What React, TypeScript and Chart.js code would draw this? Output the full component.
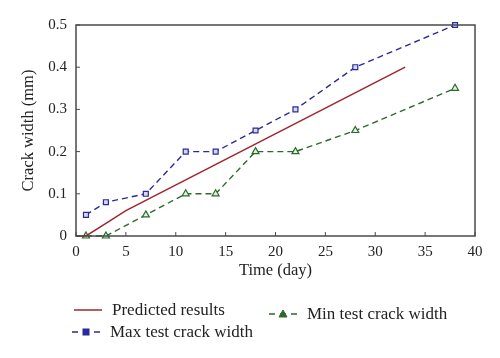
import React, { useEffect, useRef } from "react";
import { Chart, registerables } from "chart.js";

Chart.register(...registerables);

const predDays = [0, 1, 3, 5, 33];
const predWidth = [0, 0, 0.03, 0.06, 0.4];
const maxDays = [1, 3, 7, 11, 14, 18, 22, 28, 38];
const maxWidth = [0.05, 0.08, 0.1, 0.2, 0.2, 0.25, 0.3, 0.4, 0.5];
const minDays = [1, 3, 7, 11, 14, 18, 22, 28, 38];
const minWidth = [0, 0, 0.05, 0.1, 0.1, 0.2, 0.2, 0.25, 0.35];

const xTitle = "Time (day)";
const yTitle = "Crack width (mm)";
const seriesNames = ["Predicted results", "Max test crack width", "Min test crack width"];

const RED = "#a0262e";
const BLUE = "#2a2a9a";
const GREEN = "#2c6a2c";
const AXIS = "#4a4a4a";
const FONT = "'Liberation Serif', 'Times New Roman', serif";

const toPts = (xs: number[], ys: number[]) => xs.map((x, i) => ({ x, y: ys[i] }));

const boxPlugin = {
  id: "boxTicks",
  afterDraw(chart: any) {
    const { ctx, chartArea } = chart;
    const { left, right, top, bottom } = chartArea;
    ctx.save();
    ctx.strokeStyle = AXIS;
    ctx.lineWidth = 1.5;
    ctx.strokeRect(left, top, right - left, bottom - top);
    ctx.lineWidth = 1;
    const xs = chart.scales.x;
    xs.ticks.forEach((t: any) => {
      const px = xs.getPixelForValue(t.value);
      ctx.beginPath();
      ctx.moveTo(px, bottom);
      ctx.lineTo(px, bottom - 4);
      ctx.stroke();
    });
    const ys = chart.scales.y;
    ys.ticks.forEach((t: any) => {
      const py = ys.getPixelForValue(t.value);
      ctx.beginPath();
      ctx.moveTo(left, py);
      ctx.lineTo(left + 4, py);
      ctx.stroke();
    });
    ctx.restore();
  },
};

function Sample({ color, dash, marker }: { color: string; dash: boolean; marker?: "rect" | "tri" }) {
  return (
    <svg width={28} height={10} style={{ display: "block" }}>
      <line
        x1={0}
        y1={5}
        x2={28}
        y2={5}
        stroke={color}
        strokeWidth={1.5}
        strokeDasharray={dash ? "6 5" : undefined}
      />
      {marker === "rect" && <rect x={11} y={2} width={6} height={6} fill={color} stroke={color} />}
      {marker === "tri" && <polygon points="14,1 18,8 10,8" fill={color} stroke={color} />}
    </svg>
  );
}

export default function App() {
  const ref = useRef<HTMLCanvasElement | null>(null);

  useEffect(() => {
    if (!ref.current) return;
    const chart = new Chart(ref.current, {
      type: "line",
      data: {
        datasets: [
          {
            label: seriesNames[0],
            data: toPts(predDays, predWidth),
            borderColor: RED,
            borderWidth: 1.5,
            pointRadius: 0,
            clip: false as any,
          },
          {
            label: seriesNames[1],
            data: toPts(maxDays, maxWidth),
            borderColor: BLUE,
            borderWidth: 1.4,
            borderDash: [6, 4],
            pointStyle: "rect",
            pointRadius: 3.5,
            pointBorderWidth: 1.2,
            pointBorderColor: BLUE,
            pointBackgroundColor: "#d8d8ee",
            clip: false as any,
          },
          {
            label: seriesNames[2],
            data: toPts(minDays, minWidth),
            borderColor: GREEN,
            borderWidth: 1.4,
            borderDash: [6, 4],
            pointStyle: "triangle",
            pointRadius: 4,
            pointBorderWidth: 1.2,
            pointBorderColor: GREEN,
            pointBackgroundColor: "#e4f0e4",
            clip: false as any,
          },
        ],
      },
      options: {
        responsive: false,
        animation: false,
        layout: { padding: { top: 25, right: 25, left: 0, bottom: 77 } },
        plugins: { legend: { display: false }, tooltip: { enabled: false } },
        scales: {
          x: {
            type: "linear",
            min: 0,
            max: 40,
            grid: { display: false, drawTicks: false },
            border: { display: false },
            ticks: { stepSize: 5, color: "#222", padding: 7, font: { family: FONT, size: 15 } },
            title: {
              display: true,
              text: xTitle,
              color: "#222",
              padding: { top: 0, bottom: 0 },
              font: { family: FONT, size: 16.5 },
            },
            afterFit: (s: any) => {
              s.height = 45;
            },
          },
          y: {
            type: "linear",
            min: 0,
            max: 0.5,
            grid: { display: false, drawTicks: false },
            border: { display: false },
            ticks: { stepSize: 0.1, color: "#222", padding: 9, font: { family: FONT, size: 15 } },
            title: {
              display: true,
              text: yTitle,
              color: "#222",
              padding: { top: 19, bottom: 0 },
              font: { family: FONT, size: 16.5 },
            },
            afterFit: (s: any) => {
              s.width = 76;
            },
          },
        },
      },
      plugins: [boxPlugin],
    });
    return () => chart.destroy();
  }, []);

  const textStyle: React.CSSProperties = {
    position: "absolute",
    fontFamily: FONT,
    fontSize: 17,
    color: "#222",
    lineHeight: "18px",
    whiteSpace: "nowrap",
    display: "flex",
    alignItems: "center",
  };

  return (
    <div style={{ position: "fixed", left: 0, top: 0, width: 500, height: 358, background: "#fff" }}>
      <canvas ref={ref} width={500} height={358} style={{ display: "block", width: 500, height: 358 }} />
      <div style={{ ...textStyle, left: 74, top: 301 }}>
        <Sample color={RED} dash={false} />
        <span style={{ marginLeft: 10 }}>{seriesNames[0]}</span>
      </div>
      <div style={{ ...textStyle, left: 72, top: 323 }}>
        <Sample color={BLUE} dash={true} marker="rect" />
        <span style={{ marginLeft: 10 }}>{seriesNames[1]}</span>
      </div>
      <div style={{ ...textStyle, left: 269, top: 305 }}>
        <Sample color={GREEN} dash={true} marker="tri" />
        <span style={{ marginLeft: 10 }}>{seriesNames[2]}</span>
      </div>
    </div>
  );
}
